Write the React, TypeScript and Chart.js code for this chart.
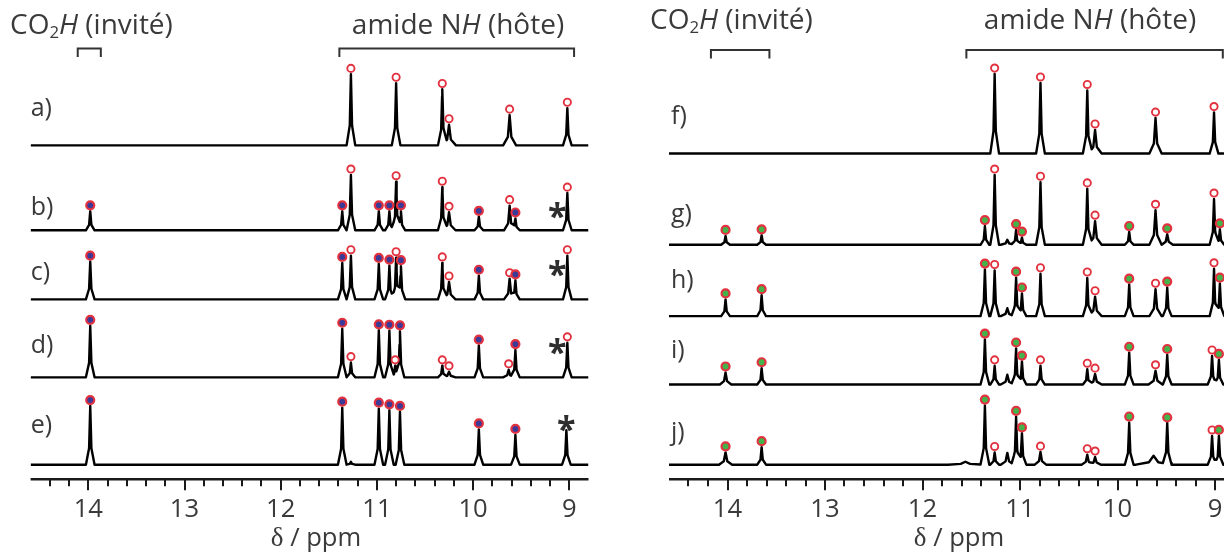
import React, { useEffect, useRef } from "react";
import { Chart, registerables } from "chart.js";

Chart.register(...registerables);

type Peak = [number, number, string, number?]; // ppm, height, mark (H host, B/G bound, "" none), width factor

// ---------- axis ----------
const PPM_LOW = 8.8;
const PPM_HIGH = 14.6;
const TICK_VALUES = [14, 13, 12, 11, 10, 9];
const MINOR_TICK_VALUES = [
  9, 9.2, 9.4, 9.6, 9.8, 10, 10.2, 10.4, 10.6, 10.8, 11, 11.2, 11.4, 11.6, 11.8,
  12, 12.2, 12.4, 12.6, 12.8, 13, 13.2, 13.4, 13.6, 13.8, 14, 14.2, 14.4,
];
const AXIS_TITLE_SYMBOL = "δ";
const AXIS_TITLE_REST = " / ppm";

// ---------- headers ----------
const GUEST_LABEL = ["CO", "2", "H", " (invité)"];
const HOST_LABEL = ["amide N", "H", " (hôte)"];
const LEFT_LABELS = ["a)", "b)", "c)", "d)", "e)"];
const RIGHT_LABELS = ["f)", "g)", "h)", "i)", "j)"];

// ---------- left panel spectra ----------
const SPEC_A: Peak[] = [
  [11.27, 72, "H"], [10.8, 63, "H"], [10.32, 56.7, "H"], [10.25, 21, "H", 1.6],
  [9.62, 30.7, "H", 1.5], [9.02, 37.7, "H"],
];
const SPEC_B: Peak[] = [
  [13.98, 19.3, "B"], [11.36, 19.3, "B"], [11.27, 56, "H"], [10.98, 19.3, "B"],
  [10.87, 19.3, "B"], [10.8, 49.3, "H"], [10.75, 19.3, "B"], [10.32, 43.7, "H"],
  [10.25, 18.3, "H", 1.5], [9.94, 13.7, "B"], [9.62, 25, "H", 1.3], [9.56, 12, "B"],
  [9.02, 37.7, "H"],
];
const SPEC_C: Peak[] = [
  [13.98, 38.3, "B"], [11.36, 37, "B"], [11.27, 44.3, "H"], [10.98, 36, "B"],
  [10.87, 34.3, "B"], [10.8, 42.3, "H"], [10.75, 33.7, "B"], [10.32, 37, "H"],
  [10.25, 17.7, "H", 1.5], [9.94, 24, "B"], [9.62, 21, "H", 1.3], [9.56, 19.3, "B"],
  [9.02, 44.3, "H"],
];
const SPEC_D: Peak[] = [
  [13.98, 52.3, "B"], [11.36, 49.3, "B"], [11.27, 15, "H"], [10.98, 47.7, "B"],
  [10.87, 47.3, "B"], [10.81, 11.7, "H"], [10.76, 46.7, "B"], [10.32, 11.7, "H"],
  [10.25, 5.7, "H", 1.5], [9.94, 32.3, "B"], [9.63, 7.7, "H", 1.3], [9.56, 27.7, "B"],
  [9.02, 35, "H"],
];
const SPEC_E: Peak[] = [
  [13.98, 59.5, "B"], [11.36, 57.8, "B"], [11.27, 3, ""], [10.98, 56.8, "B"],
  [10.87, 55.2, "B"], [10.76, 53.5, "B"], [9.94, 35.8, "B"], [9.56, 30.2, "B"],
  [9.03, 35, ""],
];

// ---------- right panel spectra ----------
const SPEC_F: Peak[] = [
  [11.26, 80.6, "H"], [10.79, 71.6, "H"], [10.31, 64, "H"], [10.23, 24, "H", 1.5],
  [9.61, 36, "H", 1.4], [9.01, 41.6, "H"],
];
const SPEC_G: Peak[] = [
  [14.02, 9, "G"], [13.65, 9.7, "G"], [11.36, 19, "G"], [11.26, 70.7, "H"],
  [11.13, 5, "", 1.5], [11.04, 15, "G"], [10.98, 7.4, "G"], [10.79, 63.4, "H"],
  [10.31, 56.7, "H"], [10.23, 24, "H", 1.5], [9.88, 13, "G"], [9.61, 35, "H", 1.4],
  [9.49, 10.7, "G", 1.3], [9.01, 46.4, "H"], [8.95, 15.7, "G"],
];
const SPEC_H: Peak[] = [
  [14.02, 17, "G"], [13.65, 21.3, "G"], [11.36, 47.3, "G"], [11.26, 46.3, "H"],
  [11.13, 8, "", 1.5], [11.04, 39, "G"], [10.98, 23, "G"], [10.79, 43, "H"],
  [10.31, 38.7, "H"], [10.23, 19.7, "H", 1.5], [9.88, 32, "G"], [9.61, 27.3, "H", 1.4],
  [9.49, 29, "G"], [9.01, 48, "H"], [8.95, 33, "G"],
];
const SPEC_I: Peak[] = [
  [14.02, 12.3, "G", 1.3], [13.65, 16.6, "G"], [11.36, 45.6, "G"], [11.26, 19, "H"],
  [11.13, 10, "", 1.5], [11.04, 36.6, "G"], [10.98, 23.3, "G"], [10.79, 19, "H"],
  [10.31, 15.6, "H"], [10.23, 10.6, "H", 1.5], [9.88, 32.3, "G"], [9.61, 14, "H", 1.6],
  [9.49, 30, "G"], [9.03, 29, "H"], [8.96, 25, "G"],
];
const SPEC_J: Peak[] = [
  [14.02, 12.5, "G", 1.5], [13.65, 17.8, "G"], [11.56, 3, "", 4], [11.36, 60, "G"],
  [11.26, 12.5, "H"], [11.13, 12, "", 1.5], [11.04, 48.5, "G"], [10.98, 31.8, "G"],
  [10.79, 12.8, "H", 1.3], [10.31, 10.2, "H", 1.3], [10.23, 7.8, "H", 1.3],
  [9.88, 42.8, "G"], [9.63, 9, "", 4], [9.49, 41.8, "G"], [9.03, 29.2, "H"],
  [8.96, 29.2, "G"],
];

// star (solvent/impurity) positions: [spectrum index, ppm]
const LEFT_STARS: [number, number][] = [[1, 9.125], [2, 9.125], [3, 9.125], [4, 9.03]];

// ---------- styles / layout ----------
const FONT = "'Open Sans', 'DejaVu Sans', sans-serif";
const TEXT = "#3a3a3a";
const RED = "#e2323f";
const BLUE = "#3b3a96";
const GREEN = "#44b34b";
const SHAPE_KNEE = 0.012;
const SHAPE_FOOT = 0.045;
const SHAPE_KNEE_FRAC = 0.28;
const MARKER_GAP = 6;
const AXIS_PX = 479.3;
const CANVAS_H = 553;

interface PanelCfg {
  pageLeft: number;
  width: number;
  padLeft: number;
  padRight: number;
  spectra: Peak[][];
  bases: number[];
  labels: string[];
  labelX: number;
  labelYs: number[];
  boundColor: string;
  stars: [number, number][];
  starYs: number[];
  titleY: number;
  guestX: number;
  hostCenterX: number;
  bracketY: number;
  guestBracket: [number, number];
  hostBracket: [number, number];
  axisTitleX: number;
}

// all x/y text positions below are page coordinates
const LEFT_CFG: PanelCfg = {
  pageLeft: 0,
  width: 600,
  padLeft: 30.6,
  padRight: 11.5,
  spectra: [SPEC_A, SPEC_B, SPEC_C, SPEC_D, SPEC_E],
  bases: [338.3, 252.3, 182.3, 103.3, 14.8],
  labels: LEFT_LABELS,
  labelX: 30.7,
  labelYs: [109, 208.3, 273, 346.7, 426.7],
  boundColor: BLUE,
  stars: LEFT_STARS,
  starYs: [208, 266.7, 344, 421.7],
  titleY: 27,
  guestX: 10,
  hostCenterX: 458,
  bracketY: 48.5,
  guestBracket: [14.11, 13.87],
  hostBracket: [11.39, 8.95],
  axisTitleX: 316,
};

const RIGHT_CFG: PanelCfg = {
  pageLeft: 610,
  width: 640,
  padLeft: 59,
  padRight: 15.5,
  spectra: [SPEC_F, SPEC_G, SPEC_H, SPEC_I, SPEC_J],
  bases: [330, 237.6, 165.3, 96, 14.8],
  labels: RIGHT_LABELS,
  labelX: 671,
  labelYs: [117.3, 215, 281.7, 351.7, 433.3],
  boundColor: GREEN,
  stars: [],
  starYs: [],
  titleY: 22,
  guestX: 650,
  hostCenterX: 1090,
  bracketY: 50,
  guestBracket: [14.17, 13.57],
  hostBracket: [11.55, 8.92],
  axisTitleX: 959,
};

function shapeAt(d: number, w: number): number {
  const a = Math.abs(d);
  const k = SHAPE_KNEE * w;
  const f = SHAPE_FOOT * w;
  if (a <= k) return 1 - (1 - SHAPE_KNEE_FRAC) * (a / k);
  if (a <= f) return (SHAPE_KNEE_FRAC * (f - a)) / (f - k);
  return 0;
}

function buildLine(peaks: Peak[], base: number) {
  const xs = new Set<number>([PPM_LOW, PPM_HIGH]);
  peaks.forEach((pk) => {
    const p = pk[0];
    const w = pk[3] ?? 1;
    [-SHAPE_FOOT * w, -SHAPE_KNEE * w, 0, SHAPE_KNEE * w, SHAPE_FOOT * w].forEach((o) =>
      xs.add(+(p + o).toFixed(5))
    );
  });
  const sorted = [...xs].sort((a, b) => b - a);
  return sorted.map((x) => ({
    x,
    y: base + peaks.reduce((s, pk) => s + pk[1] * shapeAt(x - pk[0], pk[3] ?? 1), 0),
  }));
}

function makePlugin(cfg: PanelCfg) {
  return {
    id: "nmrDecor",
    afterDatasetsDraw(chart: any) {
      const ctx: CanvasRenderingContext2D = chart.ctx;
      const xs = chart.scales.x;
      const X = (v: number) => xs.getPixelForValue(v);
      const axisY = chart.chartArea.bottom;
      const L = (px: number) => px - cfg.pageLeft;
      ctx.save();

      // axis line
      ctx.strokeStyle = "#1a1a1a";
      ctx.lineWidth = 2.6;
      ctx.beginPath();
      ctx.moveTo(X(PPM_HIGH), axisY);
      ctx.lineTo(X(PPM_LOW), axisY);
      ctx.stroke();

      // ticks
      ctx.lineWidth = 2;
      MINOR_TICK_VALUES.forEach((v) => {
        const major = TICK_VALUES.indexOf(v) >= 0;
        const x = Math.round(X(v));
        ctx.beginPath();
        ctx.moveTo(x, axisY);
        ctx.lineTo(x, axisY + (major ? 11 : 7));
        ctx.stroke();
      });

      // tick labels
      const tickSize = 25.6;
      ctx.fillStyle = TEXT;
      ctx.textAlign = "center";
      ctx.textBaseline = "alphabetic";
      ctx.font = `${tickSize}px ${FONT}`;
      TICK_VALUES.forEach((v) => {
        ctx.fillText(String(v), X(v), 508 + 0.357 * tickSize);
      });

      // axis title
      ctx.textAlign = "left";
      const symFont = `27px 'Liberation Serif', 'DejaVu Serif', serif`;
      const restFont = `25.6px ${FONT}`;
      ctx.font = symFont;
      const wSym = ctx.measureText(AXIS_TITLE_SYMBOL).width;
      ctx.font = restFont;
      const wRest = ctx.measureText(AXIS_TITLE_REST).width;
      const tx0 = L(cfg.axisTitleX) - (wSym + wRest) / 2;
      const tBase = 546;
      ctx.font = symFont;
      ctx.fillText(AXIS_TITLE_SYMBOL, tx0, tBase);
      ctx.font = restFont;
      ctx.fillText(AXIS_TITLE_REST, tx0 + wSym, tBase);

      // headers
      const hs = 28;
      const hBase = cfg.titleY + 0.26 * hs;
      const normal = `${hs}px ${FONT}`;
      const italic = `italic ${hs}px ${FONT}`;
      const sub = `${hs * 0.6}px ${FONT}`;
      let x = L(cfg.guestX);
      ctx.font = normal;
      ctx.fillText(GUEST_LABEL[0], x, hBase);
      x += ctx.measureText(GUEST_LABEL[0]).width;
      ctx.font = sub;
      ctx.fillText(GUEST_LABEL[1], x, hBase + hs * 0.12);
      x += ctx.measureText(GUEST_LABEL[1]).width;
      ctx.font = italic;
      ctx.fillText(GUEST_LABEL[2], x, hBase);
      x += ctx.measureText(GUEST_LABEL[2]).width;
      ctx.font = normal;
      ctx.fillText(GUEST_LABEL[3], x, hBase);

      ctx.font = normal;
      const w0 = ctx.measureText(HOST_LABEL[0]).width;
      const w2 = ctx.measureText(HOST_LABEL[2]).width;
      ctx.font = italic;
      const w1 = ctx.measureText(HOST_LABEL[1]).width;
      let hx = L(cfg.hostCenterX) - (w0 + w1 + w2) / 2;
      ctx.font = normal;
      ctx.fillText(HOST_LABEL[0], hx, hBase);
      hx += w0;
      ctx.font = italic;
      ctx.fillText(HOST_LABEL[1], hx, hBase);
      hx += w1;
      ctx.font = normal;
      ctx.fillText(HOST_LABEL[2], hx, hBase);

      // brackets
      ctx.strokeStyle = "#333";
      ctx.lineWidth = 2;
      [cfg.guestBracket, cfg.hostBracket].forEach(([a, b]) => {
        const xa = X(a);
        const xb = X(b);
        ctx.beginPath();
        ctx.moveTo(xa, cfg.bracketY + 8.5);
        ctx.lineTo(xa, cfg.bracketY);
        ctx.lineTo(xb, cfg.bracketY);
        ctx.lineTo(xb, cfg.bracketY + 8.5);
        ctx.stroke();
      });

      // spectrum labels
      const ls = 25;
      ctx.font = `${ls}px ${FONT}`;
      ctx.fillStyle = TEXT;
      cfg.labels.forEach((lab, i) => {
        ctx.fillText(lab, L(cfg.labelX), cfg.labelYs[i] + 0.26 * ls);
      });

      // stars
      const ss = 34;
      ctx.font = `bold ${ss}px ${FONT}`;
      ctx.textAlign = "center";
      ctx.fillStyle = "#2e2e2e";
      cfg.stars.forEach(([, ppm], i) => {
        ctx.fillText("*", X(ppm), cfg.starYs[i] + 0.58 * ss);
      });

      ctx.restore();
    },
  };
}

function Panel({ cfg }: { cfg: PanelCfg }) {
  const ref = useRef<HTMLCanvasElement | null>(null);
  useEffect(() => {
    if (!ref.current) return;
    const hostPts: { x: number; y: number }[] = [];
    const boundPts: { x: number; y: number }[] = [];
    cfg.spectra.forEach((peaks, i) => {
      peaks.forEach((pk) => {
        const pt = { x: pk[0], y: cfg.bases[i] + pk[1] + MARKER_GAP };
        if (pk[2] === "H") hostPts.push(pt);
        else if (pk[2] === "B" || pk[2] === "G") boundPts.push(pt);
      });
    });
    const lineSets = cfg.spectra.map((peaks, i) => ({
      type: "scatter" as const,
      data: buildLine(peaks, cfg.bases[i]),
      showLine: true,
      borderColor: "#000",
      borderWidth: 2.4,
      borderJoinStyle: "round" as const,
      pointRadius: 0,
      fill: false,
    }));
    const chart = new Chart(ref.current, {
      type: "scatter",
      data: {
        datasets: [
          {
            data: boundPts,
            pointStyle: "circle",
            pointRadius: 4,
            borderWidth: 2.2,
            borderColor: RED,
            backgroundColor: cfg.boundColor,
          },
          {
            data: hostPts,
            pointStyle: "circle",
            pointRadius: 3.6,
            borderWidth: 1.9,
            borderColor: RED,
            backgroundColor: "#ffffff",
          },
          ...lineSets,
        ] as any,
      },
      options: {
        animation: false,
        responsive: false,
        devicePixelRatio: 1,
        events: [],
        layout: {
          padding: { left: cfg.padLeft, right: cfg.padRight, top: 0, bottom: CANVAS_H - AXIS_PX },
        },
        plugins: { legend: { display: false }, tooltip: { enabled: false } },
        scales: {
          x: { type: "linear", reverse: true, min: PPM_LOW, max: PPM_HIGH, display: false },
          y: { type: "linear", min: 0, max: AXIS_PX, display: false },
        },
      },
      plugins: [makePlugin(cfg)],
    });
    return () => chart.destroy();
  }, [cfg]);
  return (
    <canvas
      ref={ref}
      width={cfg.width}
      height={CANVAS_H}
      style={{ position: "absolute", left: cfg.pageLeft, top: 0, width: cfg.width, height: CANVAS_H }}
    />
  );
}

export default function App() {
  return (
    <div
      style={{
        position: "fixed",
        left: 0,
        top: 0,
        width: 1224,
        height: 553,
        overflow: "hidden",
        background: "#fff",
      }}
    >
      <Panel cfg={LEFT_CFG} />
      <Panel cfg={RIGHT_CFG} />
    </div>
  );
}
